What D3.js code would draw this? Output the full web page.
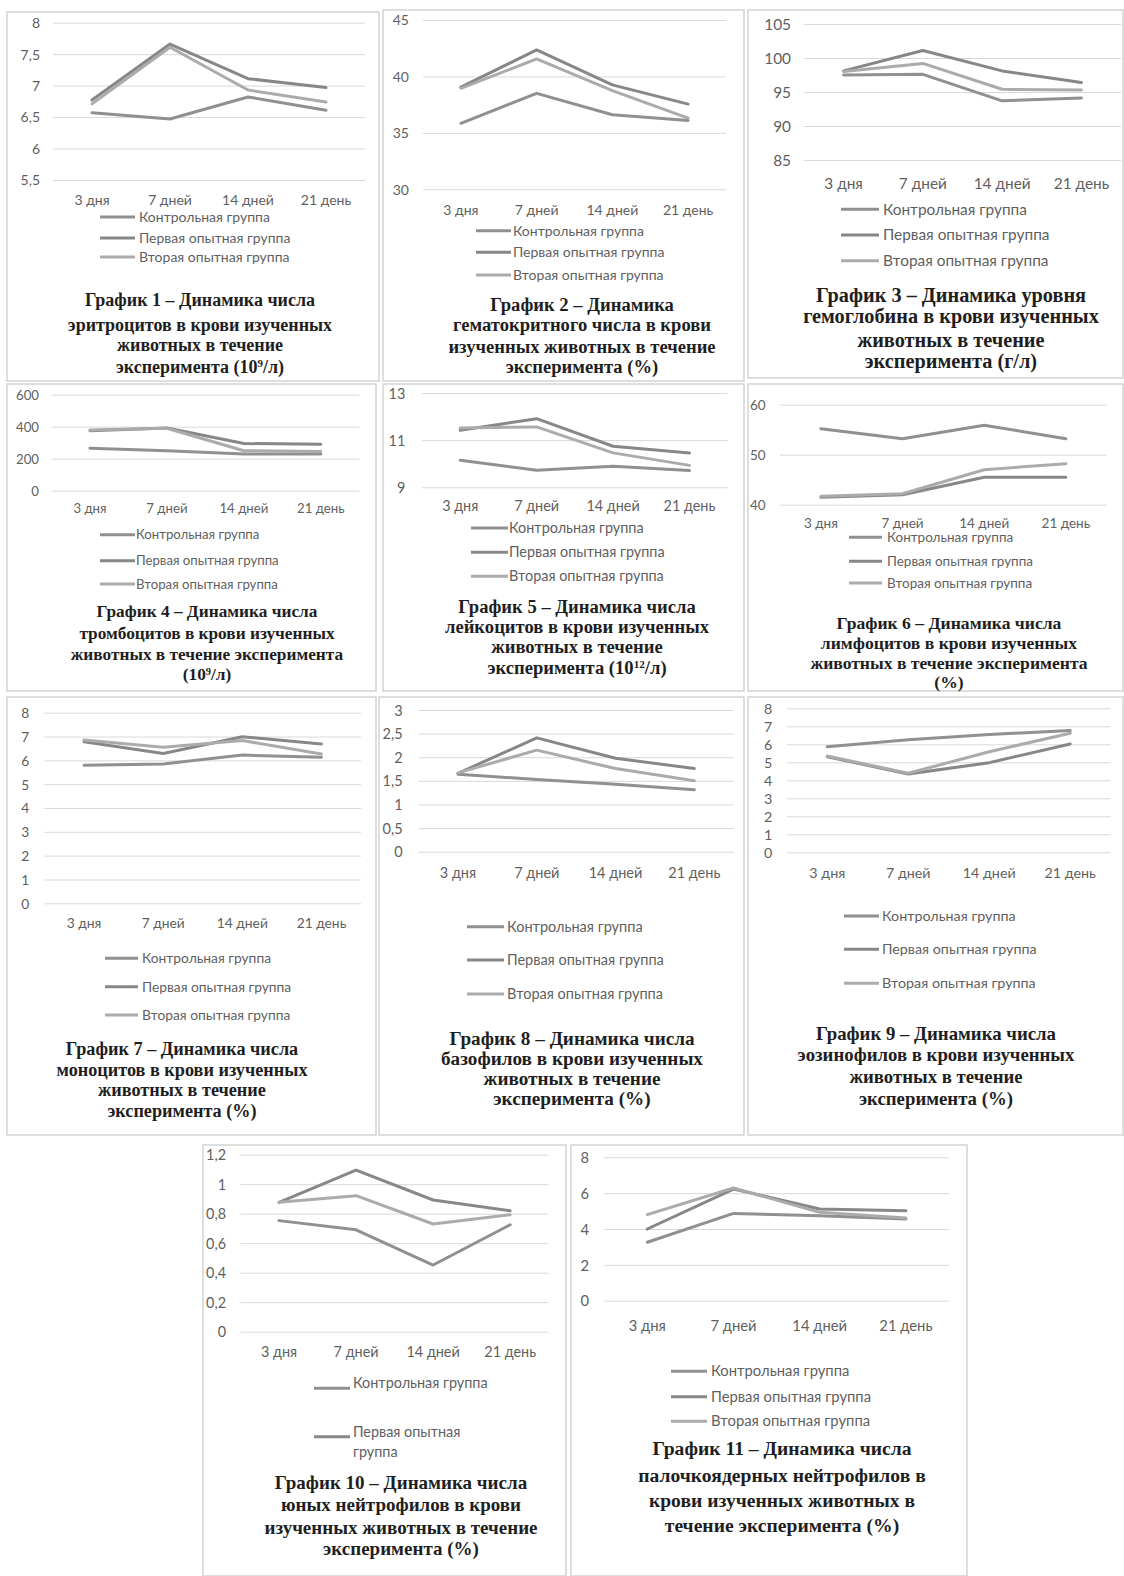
<!DOCTYPE html>
<html>
<head>
<meta charset="utf-8">
<script src="https://cdn.jsdelivr.net/npm/d3@7"></script>
<style>
body { margin: 0; background: #fff; }
.tick text, .legend text { font-family: Lato, "Open Sans", sans-serif; fill: #5f5f5f; }
.title { font-family: "Liberation Serif", "Times New Roman", serif; font-weight: bold; fill: #1e1e1e; }
</style>
</head>
<body>
<svg id="canvas" width="1124" height="1576"></svg>
<script>
const days = ["3 дня", "7 дней", "14 дней", "21 день"];
const groups = ["Контрольная группа", "Первая опытная группа", "Вторая опытная группа"];
const groupColors = ["#909090", "#878787", "#ababab"];

// values per chart, in the order of groups: control, first, second
const erythrocytes = [[6.57, 6.47, 6.82, 6.61], [6.77, 7.66, 7.11, 6.97], [6.71, 7.61, 6.93, 6.74]];
const hematocrit = [[35.85, 38.5, 36.6, 36.1], [39.05, 42.35, 39.25, 37.55], [38.95, 41.55, 38.75, 36.3]];
const hemoglobin = [[97.5, 97.6, 93.7, 94.1], [98.1, 101.1, 98.1, 96.4], [98.0, 99.2, 95.4, 95.3]];
const thrombocytes = [[265, 250, 230, 230], [375, 392, 295, 290], [380, 390, 250, 245]];
const leukocytes = [[10.15, 9.72, 9.89, 9.71], [11.42, 11.91, 10.74, 10.46], [11.52, 11.56, 10.46, 9.93]];
const lymphocytes = [[55.2, 53.2, 55.9, 53.2], [41.5, 42.0, 45.5, 45.5], [41.7, 42.2, 47.0, 48.2]];
const monocytes = [[5.79, 5.85, 6.22, 6.13], [6.78, 6.29, 6.99, 6.69], [6.85, 6.55, 6.83, 6.27]];
const basophils = [[1.64, 1.53, 1.43, 1.31], [1.66, 2.41, 1.98, 1.76], [1.67, 2.15, 1.76, 1.5]];
const eosinophils = [[5.87, 6.25, 6.55, 6.76], [5.31, 4.35, 4.98, 6.02], [5.35, 4.39, 5.59, 6.61]];
const youngNeutrophils = [[0.753, 0.691, 0.452, 0.725], [0.877, 1.096, 0.893, 0.82], [0.877, 0.922, 0.73, 0.793]];
const bandNeutrophils = [[3.26, 4.87, 4.74, 4.56], [4.0, 6.23, 5.12, 5.02], [4.8, 6.29, 4.93, 4.61]];

const charts = [erythrocytes, hematocrit, hemoglobin, thrombocytes, leukocytes, lymphocytes,
                monocytes, basophils, eosinophils, youngNeutrophils, bandNeutrophils];

const yTicks = [
    [5.5, 6, 6.5, 7, 7.5, 8],
    [30, 35, 40, 45],
    [85, 90, 95, 100, 105],
    [0, 200, 400, 600],
    [9, 11, 13],
    [40, 50, 60],
    [0, 1, 2, 3, 4, 5, 6, 7, 8],
    [0, 0.5, 1, 1.5, 2, 2.5, 3],
    [0, 1, 2, 3, 4, 5, 6, 7, 8],
    [0, 0.2, 0.4, 0.6, 0.8, 1, 1.2],
    [0, 2, 4, 6, 8]
];

// ^N marks a superscript
const titles = [
    ["График 1 – Динамика числа", "эритроцитов в крови изученных", "животных в течение", "эксперимента (10^9/л)"],
    ["График 2 – Динамика", "гематокритного числа в крови", "изученных животных в течение", "эксперимента (%)"],
    ["График 3 – Динамика уровня", "гемоглобина в крови изученных", "животных в течение", "эксперимента (г/л)"],
    ["График 4 – Динамика числа", "тромбоцитов в крови изученных", "животных в течение эксперимента", "(10^9/л)"],
    ["График 5 – Динамика числа", "лейкоцитов в крови изученных", "животных в течение", "эксперимента (10^12/л)"],
    ["График 6 – Динамика числа", "лимфоцитов в крови изученных", "животных в течение эксперимента", "(%)"],
    ["График 7 – Динамика числа", "моноцитов в крови изученных", "животных в течение", "эксперимента (%)"],
    ["График 8 – Динамика числа", "базофилов в крови изученных", "животных в течение", "эксперимента (%)"],
    ["График 9 – Динамика числа", "эозинофилов в крови изученных", "животных в течение", "эксперимента (%)"],
    ["График 10 – Динамика числа", "юных нейтрофилов в крови", "изученных животных в течение", "эксперимента (%)"],
    ["График 11 – Динамика числа", "палочкоядерных нейтрофилов в", "крови изученных животных в", "течение эксперимента (%)"]
];

// page layout of the scanned panels (px)
// box: border; plot: [x0, x1, yTop, yBottom]; tickRight: right edge of y labels
const layout = [
    { box: [7, 12, 379, 381], plot: [53, 365, 22.7, 180], tickRight: 40, xLabelY: 200, fs: 14,
      legend: [100, 135, 139], legendRows: [217, 238, 257], titleX: 200, titleRows: [300, 325, 345, 367], titleFs: 18 },
    { box: [383, 10, 744, 381], plot: [423, 726, 20, 189.3], tickRight: 409, xLabelY: 210, fs: 14,
      legend: [476, 511, 513], legendRows: [230.7, 252.3, 275], titleX: 582, titleRows: [305, 325, 347, 367], titleFs: 18.6 },
    { box: [748, 10, 1123, 378], plot: [804, 1121, 24, 160], tickRight: 791, xLabelY: 183.3, fs: 15.4,
      legend: [841, 879, 883], legendRows: [209.3, 235, 260.7], titleX: 951, titleRows: [295, 316.7, 340, 361.7], titleFs: 20.3 },
    { box: [7, 384, 376, 691], plot: [51.5, 359.3, 394.7, 490.7], tickRight: 39, xLabelY: 508, fs: 13.2,
      legend: [100, 135, 136], legendRows: [534.7, 560.7, 584], titleX: 207, titleRows: [611.3, 633, 654.7, 674.7], titleFs: 17.3 },
    { box: [383, 384, 744, 691], plot: [422, 727.7, 393, 487.3], tickRight: 405.3, xLabelY: 506.3, fs: 14.4,
      legend: [471, 508, 509], legendRows: [528, 552.3, 576.3], titleX: 577, titleRows: [607, 627, 647, 667.5], titleFs: 18.6 },
    { box: [748, 384, 1123, 691], plot: [780, 1106.7, 404.7, 504.7], tickRight: 765.7, xLabelY: 523, fs: 13.5,
      legend: [849, 882, 887], legendRows: [537.3, 561.3, 583], titleX: 949, titleRows: [623.5, 643.5, 663, 682], titleFs: 17.6 },
    { box: [7, 697, 376, 1135], plot: [44.5, 361, 712.7, 903.3], tickRight: 29.3, xLabelY: 923.3, fs: 13.8,
      legend: [105, 138, 142], legendRows: [958.3, 986.7, 1015], titleX: 182, titleRows: [1049.3, 1070, 1090, 1110.7], titleFs: 18.2 },
    { box: [379, 697, 744, 1135], plot: [418.6, 733.7, 710, 851.7], tickRight: 402.7, xLabelY: 872.7, fs: 14.5,
      legend: [467, 504, 507], legendRows: [926.7, 960, 994], titleX: 572, titleRows: [1038.3, 1058.3, 1078.3, 1098.3], titleFs: 19.2 },
    { box: [748, 697, 1123, 1135], plot: [786.8, 1110.7, 708.3, 852.3], tickRight: 772.3, xLabelY: 873.3, fs: 14.3,
      legend: [844, 879, 882], legendRows: [916, 949.3, 983.3], titleX: 936, titleRows: [1033.3, 1055, 1076.7, 1098.3], titleFs: 18.8 },
    { box: [203, 1145, 566, 1576], plot: [240.5, 548.7, 1154.7, 1331.7], tickRight: 226, xLabelY: 1352.3, fs: 14.4,
      legend: [314, 350, 353], legendRows: [1388.3, 1436.7], legendWrap: 150, titleX: 401, titleRows: [1482.3, 1504.7, 1527.3, 1549], titleFs: 19 },
    { box: [571, 1145, 967, 1576], plot: [604.2, 949, 1157.3, 1300.7], tickRight: 589, xLabelY: 1325.7, fs: 14.8,
      legend: [671, 707, 711], legendRows: [1371.3, 1396.7, 1421.3], titleX: 782, titleRows: [1449, 1475.7, 1500.7, 1525.7], titleFs: 19.6 }
];

const ru = d3.formatLocale({ decimal: ",", thousands: " ", grouping: [3], currency: ["", ""] });
const tickFormat = ru.format("~f");

function drawPanel(svg, values, ticks, title, lay) {

    const g = svg.append("g").attr("class", "panel");
    const [bx0, by0, bx1, by1] = lay.box;

    g.append("rect")
        .attr("x", bx0).attr("y", by0)
        .attr("width", bx1 - bx0).attr("height", by1 - by0)
        .attr("fill", "none")
        .attr("stroke", "#d6d6d6")
        .attr("stroke-width", 1.6);

    const [x0, x1, yTop, yBottom] = lay.plot;

    const x = d3.scaleBand().domain(days).range([x0, x1]);
    const y = d3.scaleLinear()
        .domain([ticks[0], ticks[ticks.length - 1]])
        .range([yBottom, yTop]);

    // y axis with gridlines
    const yAxis = g.append("g")
        .attr("transform", "translate(" + x0 + ",0)")
        .call(d3.axisLeft(y)
            .tickValues(ticks)
            .tickSize(-(x1 - x0))
            .tickPadding(x0 - lay.tickRight)
            .tickFormat(tickFormat));
    yAxis.select(".domain").remove();
    yAxis.selectAll(".tick line").attr("stroke", "#d9d9d9").attr("stroke-width", 1);
    yAxis.selectAll(".tick text").attr("font-size", lay.fs).attr("dy", "0.35em");

    // category labels
    const xAxis = g.append("g")
        .attr("transform", "translate(0," + lay.xLabelY + ")")
        .call(d3.axisBottom(x).tickSize(0).tickPadding(0));
    xAxis.select(".domain").remove();
    xAxis.selectAll(".tick text").attr("font-size", lay.fs).attr("y", 0).attr("dy", "0.35em");

    const line = d3.line()
        .x((d, i) => x(days[i]) + x.bandwidth() / 2)
        .y(d => y(d));

    g.selectAll(".series")
        .data(values)
        .join("path")
        .attr("class", "series")
        .attr("fill", "none")
        .attr("stroke", (d, i) => groupColors[i])
        .attr("stroke-width", 3)
        .attr("stroke-linejoin", "round")
        .attr("stroke-linecap", "round")
        .attr("d", line);

    // legend
    const legend = g.append("g").attr("class", "legend");
    const [lx0, lx1, tx] = lay.legend;

    lay.legendRows.forEach((ry, i) => {
        legend.append("line")
            .attr("x1", lx0).attr("x2", lx1)
            .attr("y1", ry).attr("y2", ry)
            .attr("stroke", groupColors[i])
            .attr("stroke-width", 3);
        const t = legend.append("text")
            .attr("x", tx).attr("y", ry)
            .attr("dy", "0.35em")
            .attr("font-size", lay.fs)
            .text(groups[i]);
        if (lay.legendWrap) {
            wrapText(t, lay.legendWrap, 20);
        }
    });

    // caption
    lay.titleRows.forEach((ty, i) => {
        const t = g.append("text")
            .attr("class", "title")
            .attr("x", lay.titleX).attr("y", ty)
            .attr("dy", "0.33em")
            .attr("text-anchor", "middle")
            .attr("font-size", lay.titleFs);
        richText(t, title[i], lay.titleFs);
    });

}

function richText(t, str, fs) {

    const parts = str.split(/\^(\d+)/);
    const shift = fs * 0.33;

    parts.forEach((p, i) => {
        if (!p) { return; }
        const span = t.append("tspan").text(p);
        if (i % 2 == 1) {
            span.attr("font-size", fs * 0.6).attr("dy", -shift);
        } else if (i > 0) {
            span.attr("dy", shift);
        }
    });

}

function wrapText(t, maxWidth, lineHeight) {

    const words = t.text().split(" ");
    const x = t.attr("x");
    t.text(null);

    var lines = [];
    var current = [];
    var span = t.append("tspan").attr("x", x);

    for (const w of words) {
        current.push(w);
        span.text(current.join(" "));
        if (span.node().getComputedTextLength() > maxWidth && current.length > 1) {
            current.pop();
            lines.push(current.join(" "));
            current = [w];
        }
    }
    lines.push(current.join(" "));

    span.remove();
    lines.forEach((l, i) => {
        t.append("tspan")
            .attr("x", x)
            .attr("dy", i == 0 ? 0 : lineHeight)
            .text(l);
    });

}

const svg = d3.select("#canvas");
svg.append("rect").attr("width", 1124).attr("height", 1576).attr("fill", "#fff");

charts.forEach((values, k) => {
    drawPanel(svg, values, yTicks[k], titles[k], layout[k]);
});
</script>
</body>
</html>
